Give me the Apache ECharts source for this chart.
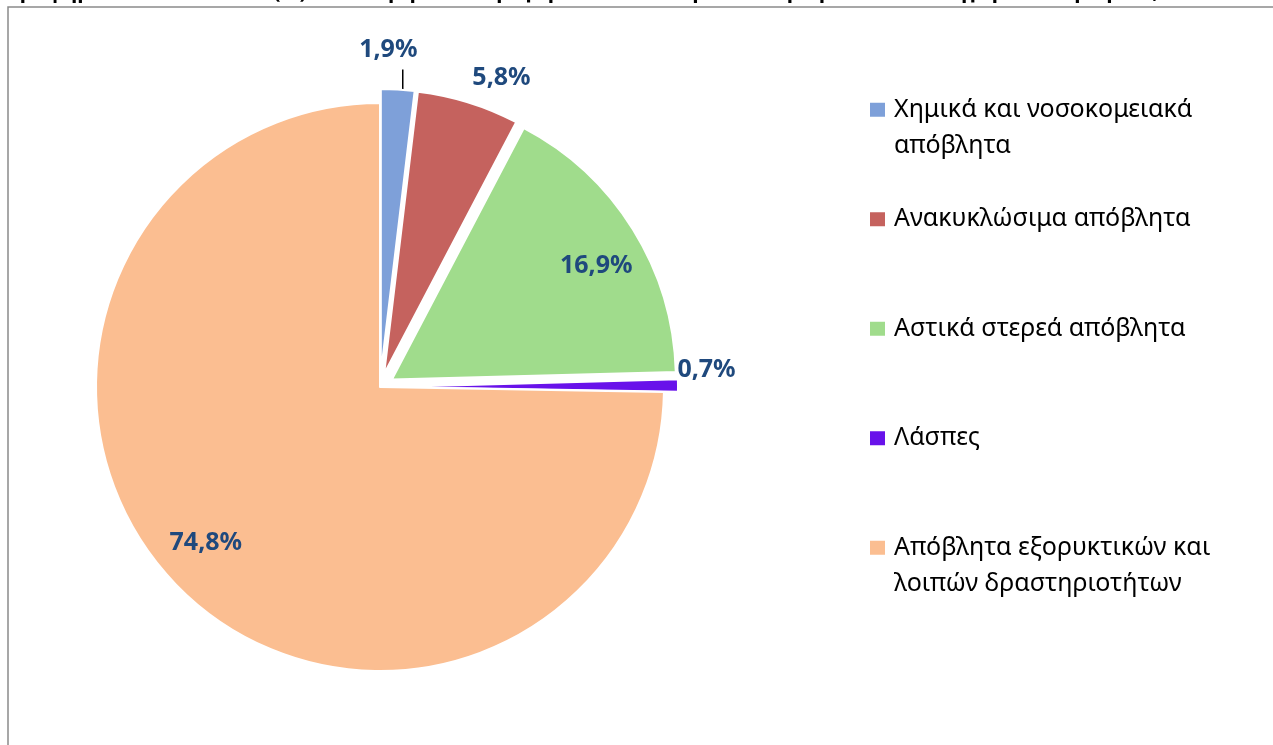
<!DOCTYPE html>
<html>
<head>
<meta charset="utf-8">
<script src="https://cdn.jsdelivr.net/npm/echarts@6/dist/echarts.min.js"></script>
<style>
  html, body { margin: 0; padding: 0; background: #fff; }
  #chart { width: 1273px; height: 745px; }
</style>
</head>
<body>
<div id="chart"></div>
<script>
// κατηγορίες αποβλήτων και ποσοστά (%)
var categories = [
    'Χημικά και νοσοκομειακά απόβλητα',
    'Ανακυκλώσιμα απόβλητα',
    'Αστικά στερεά απόβλητα',
    'Λάσπες',
    'Απόβλητα εξορυκτικών και λοιπών δραστηριοτήτων'
];
var values = [1.9, 5.8, 16.9, 0.7, 74.8];
var valueLabels = ['1,9%', '5,8%', '16,9%', '0,7%', '74,8%'];
var legendLabels = [
    'Χημικά και νοσοκομειακά\nαπόβλητα',
    'Ανακυκλώσιμα απόβλητα',
    'Αστικά στερεά απόβλητα',
    'Λάσπες',
    'Απόβλητα εξορυκτικών και\nλοιπών δραστηριοτήτων'
];
var exploded = [true, true, true, true, false];
var colors = ['#7ea0d9', '#c5625e', '#a0dc8c', '#6812ea', '#fbbe91'];

// θέση ετικετών: απόσταση από το κέντρο και μικρή στροφή (μοίρες)
var labelRadius = [337, 332, 248, 327, 234];
var labelTurn = [-2.0, 4.2, 2.6, -2.8, 2.6];

var cx = 380, cy = 387, R = 284;

var total = values.reduce(function (a, b) { return a + b; }, 0);
var midAngle = [];
var acc = 0;
values.forEach(function (v) {
    midAngle.push((acc + v / 2) / total * 360);
    acc += v;
});

// οδηγός για τη μικρή φέτα (1,9%)
var a0 = midAngle[0] * Math.PI / 180;
var leadX = cx + (R + 14) * Math.sin(a0) + 5;
var leadY = cy - (R + 14) * Math.cos(a0);

var myChart = echarts.init(document.getElementById('chart'));
var option = {
    animation: false,
    color: colors,
    graphic: [
        {
            type: 'text',
            left: 10,
            top: -18,
            style: {
                text: 'Γράφημα 5 – Ποσοστιαία (%) κατανομή των παραγόμενων ποσοτήτων αποβλήτων ανά κατηγορία αποβλήτων, 2010',
                font: 'bold 21px "Noto Sans"',
                fill: '#000'
            }
        },
        {
            type: 'rect',
            shape: { x: 8, y: 7, width: 1400, height: 900 },
            style: { fill: 'none', stroke: '#8a8a8a', lineWidth: 1.5 },
            silent: true
        },
        {
            type: 'line',
            shape: { x1: leadX, y1: leadY, x2: leadX, y2: leadY - 20 },
            style: { stroke: '#000', lineWidth: 1.5 },
            silent: true
        }
    ],
    legend: {
        orient: 'vertical',
        left: 868,
        top: 55,
        padding: 0,
        icon: 'rect',
        itemWidth: 17,
        itemHeight: 16,
        itemGap: 0,
        selectedMode: false,
        data: categories,
        formatter: function (name) {
            var i = categories.indexOf(name);
            var t = legendLabels[i];
            if (t.indexOf('\n') < 0) t = t + '\n ';
            return ' \n' + t;
        },
        textStyle: {
            fontFamily: 'Noto Sans',
            fontSize: 25,
            lineHeight: 36.5,
            color: '#000',
            padding: [0, 0, 0, 3]
        }
    },
    series: [
        {
            // οι φέτες
            type: 'pie',
            center: [cx, cy],
            radius: [0, R],
            startAngle: 90,
            clockwise: true,
            selectedMode: 'multiple',
            selectedOffset: 14,
            silent: true,
            emphasis: { disabled: true },
            itemStyle: { borderColor: '#fff', borderWidth: 2 },
            label: { show: false },
            labelLine: { show: false },
            data: categories.map(function (c, i) {
                return {
                    name: c,
                    value: values[i],
                    selected: exploded[i],
                    itemStyle: { color: colors[i] }
                };
            })
        },
        {
            // μόνο οι ετικέτες
            type: 'pie',
            center: [cx, cy],
            radius: [0, R],
            startAngle: 90,
            clockwise: true,
            silent: true,
            emphasis: { disabled: true },
            itemStyle: { color: 'rgba(0,0,0,0)', borderWidth: 0 },
            label: {
                show: true,
                position: 'inside',
                fontFamily: 'Noto Sans',
                fontWeight: 'bold',
                fontSize: 25,
                color: '#1f497d',
                formatter: function (p) { return valueLabels[p.dataIndex]; }
            },
            labelLine: { show: false },
            labelLayout: function (p) {
                var i = p.dataIndex;
                var a = (midAngle[i] + labelTurn[i]) * Math.PI / 180;
                return {
                    x: cx + labelRadius[i] * Math.sin(a),
                    y: cy - labelRadius[i] * Math.cos(a),
                    align: 'center',
                    verticalAlign: 'middle'
                };
            },
            data: categories.map(function (c, i) {
                return { name: c, value: values[i] };
            })
        }
    ]
};
myChart.setOption(option);
</script>
</body>
</html>
